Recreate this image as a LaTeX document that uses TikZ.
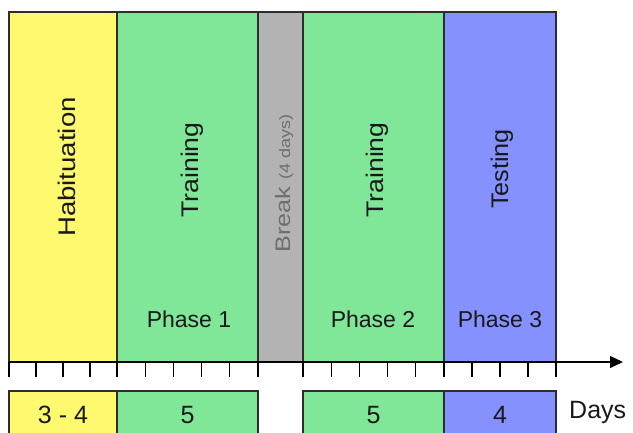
\documentclass[tikz,border=0pt]{standalone}
\usepackage{fontspec}
\setmainfont{Liberation Sans}
\usetikzlibrary{arrows.meta}
\definecolor{cyel}{RGB}{255,249,112}
\definecolor{cgrn}{RGB}{128,231,152}
\definecolor{cgry}{RGB}{179,179,179}
\definecolor{cblu}{RGB}{133,145,255}
\definecolor{cbrk}{RGB}{110,110,110}
\definecolor{cedge}{RGB}{45,45,45}
\definecolor{ctxt}{RGB}{25,25,25}
\newcommand{\fsz}[1]{\fontsize{#1}{#1}\selectfont}
\begin{document}
\begin{tikzpicture}[x=1pt,y=-1pt,
  colbox/.style={draw=cedge, line width=1.1pt},
  lbl/.style={inner sep=0pt, text=ctxt},
  vlbl/.style={inner sep=0pt, text=ctxt, rotate=90, anchor=base},
  tick/.style={draw=black, line width=1.1pt}]
\useasboundingbox (0,0) rectangle (633,433);
% columns
\draw[colbox, fill=cyel] (9,12) rectangle (117,362);
\draw[colbox, fill=cgrn] (117,12) rectangle (258,362);
\draw[colbox, fill=cgry] (258,12) rectangle (303,362);
\draw[colbox, fill=cgrn] (303,12) rectangle (444,362);
\draw[colbox, fill=cblu] (444,12) rectangle (556,362);
% bottom boxes (cut by the lower edge)
\begin{scope}
\clip (0,0) rectangle (633,433);
\draw[colbox, fill=cyel] (9,391) rectangle (117,445);
\draw[colbox, fill=cgrn] (117,391) rectangle (258,445);
\draw[colbox, fill=cgrn] (303,391) rectangle (444,445);
\draw[colbox, fill=cblu] (444,391) rectangle (556,445);
\end{scope}
% vertical labels
\node[vlbl] (hab) at (75,167) {\fsz{24}\scalebox{1.15}[1]{Habituation}};
\node[vlbl] (tr1) at (198,170) {\fsz{24}\scalebox{1.11}[1]{Training}};
\node[vlbl] (tr2) at (383,170) {\fsz{24}\scalebox{1.11}[1]{Training}};
\node[vlbl] (tst) at (508,169) {\fsz{24}\scalebox{1.05}[1]{Testing}};
\node[inner sep=0pt, text=cbrk, rotate=90, anchor=base west] (brk) at (290,253)
  {\scalebox{1.2}[1]{\fsz{21}Break \fsz{15}(4 days)}};
% phase labels
\node[lbl, anchor=base] (p1) at (189,328) {\fsz{23}Phase 1};
\node[lbl, anchor=base] (p2) at (373,328) {\fsz{23}Phase 2};
\node[lbl, anchor=base] (p3) at (500,328) {\fsz{23}Phase 3};
% axis
\coordinate (a0) at (9,362);
\coordinate (a1) at (623,362);
\draw[line width=1.3pt, -{Triangle[length=13pt,width=12pt]}] (a0) -- (a1);
\foreach \t in {9,36,63,90,117,145.2,173.4,201.6,229.8,258,303,331.2,359.4,387.6,415.8,444,472,500,528,556}
  \draw[tick] (\t,362) -- (\t,377);
% day counts
\node[lbl, anchor=base] (d1) at (63,423) {\fsz{25}3 - 4};
\node[lbl, anchor=base] (d2) at (187.5,423) {\fsz{25}5};
\node[lbl, anchor=base] (d3) at (373.5,423) {\fsz{25}5};
\node[lbl, anchor=base] (d4) at (500,423) {\fsz{25}4};
\node[lbl, anchor=base west] (days) at (569,418) {\fsz{25}Days};
\end{tikzpicture}
\end{document}
